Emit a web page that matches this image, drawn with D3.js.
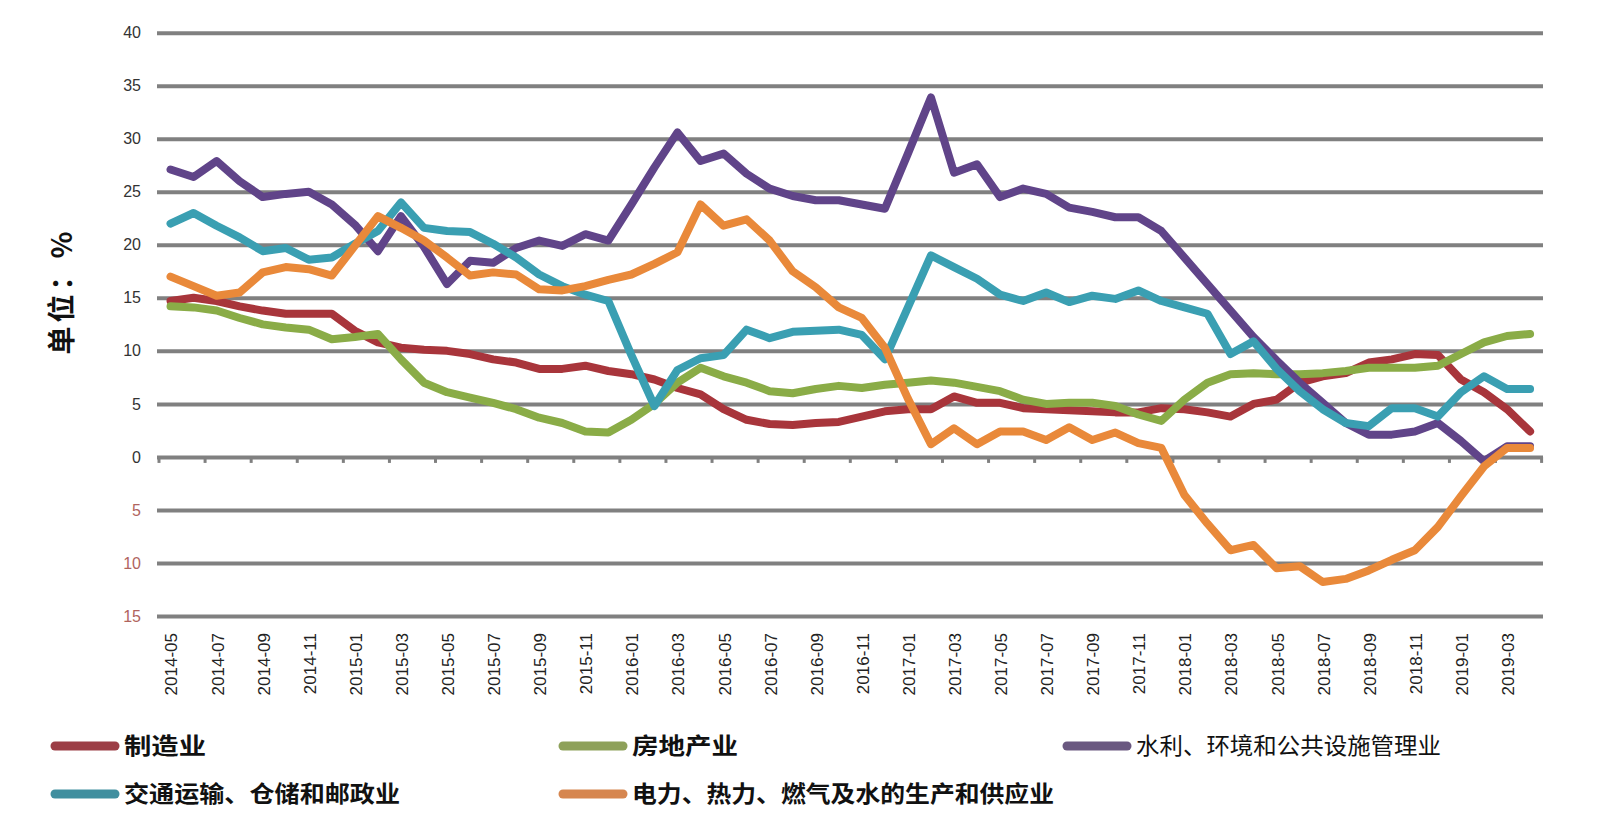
<!DOCTYPE html>
<html><head><meta charset="utf-8">
<script src="https://cdn.jsdelivr.net/npm/d3@7"></script>
<style>body{margin:0;background:#fff}svg{display:block}</style>
</head><body><svg id="c" width="1600" height="836"></svg>
<script>
const months = ["2014-05","2014-06","2014-07","2014-08","2014-09","2014-10","2014-11","2014-12",
"2015-01","2015-02","2015-03","2015-04","2015-05","2015-06","2015-07","2015-08","2015-09","2015-10","2015-11","2015-12",
"2016-01","2016-02","2016-03","2016-04","2016-05","2016-06","2016-07","2016-08","2016-09","2016-10","2016-11","2016-12",
"2017-01","2017-02","2017-03","2017-04","2017-05","2017-06","2017-07","2017-08","2017-09","2017-10","2017-11","2017-12",
"2018-01","2018-02","2018-03","2018-04","2018-05","2018-06","2018-07","2018-08","2018-09","2018-10","2018-11","2018-12",
"2019-01","2019-02","2019-03","2019-04"];
const xTickLabels = ["2014-05","2014-07","2014-09","2014-11","2015-01","2015-03","2015-05","2015-07","2015-09","2015-11",
"2016-01","2016-03","2016-05","2016-07","2016-09","2016-11","2017-01","2017-03","2017-05","2017-07","2017-09","2017-11",
"2018-01","2018-03","2018-05","2018-07","2018-09","2018-11","2019-01","2019-03"];
const yTicks = [-15,-10,-5,0,5,10,15,20,25,30,35,40];
const yTickLabels = ["15","10","5","0","5","10","15","20","25","30","35","40"];

const seriesNames = ["制造业","房地产业","水利、环境和公共设施管理业","交通运输、仓储和邮政业","电力、热力、燃气及水的生产和供应业"];
const manufacturing = [14.7,15.0,14.7,14.2,13.8,13.5,13.5,13.5,11.9,10.8,10.3,10.1,10.0,9.7,9.2,8.9,8.3,8.3,8.6,8.1,
7.8,7.3,6.5,5.9,4.5,3.5,3.1,3.0,3.2,3.3,3.8,4.3,4.5,4.5,5.7,5.1,5.1,4.6,4.5,4.4,
4.3,4.2,4.2,4.6,4.5,4.2,3.8,5.0,5.4,7.0,7.6,7.9,8.9,9.2,9.7,9.6,7.3,6.1,4.5,2.4];
const realEstate = [14.2,14.1,13.8,13.1,12.5,12.2,12.0,11.1,11.3,11.6,9.2,7.0,6.1,5.6,5.1,4.5,3.7,3.2,2.4,2.3,
3.5,5.0,7.0,8.4,7.6,7.0,6.2,6.0,6.4,6.7,6.5,6.8,7.0,7.2,7.0,6.6,6.2,5.4,5.0,5.1,
5.1,4.8,4.0,3.4,5.4,7.0,7.8,7.9,7.8,7.8,7.9,8.1,8.4,8.4,8.4,8.6,9.7,10.8,11.4,11.6];
const waterEnv = [27.1,26.4,27.9,26.0,24.5,24.8,25.0,23.8,21.9,19.4,22.7,19.8,16.3,18.5,18.3,19.7,20.4,19.9,21.0,20.4,
23.8,27.3,30.6,27.9,28.6,26.7,25.3,24.6,24.2,24.2,23.8,23.4,28.6,33.9,26.8,27.6,24.5,25.3,24.8,23.5,
23.1,22.6,22.6,21.3,18.8,16.3,13.8,11.3,9.1,7.0,5.1,3.2,2.1,2.1,2.4,3.2,1.5,-0.4,1.0,1.0];
const transport = [22.0,23.0,21.8,20.7,19.4,19.7,18.6,18.8,20.1,21.3,24.0,21.6,21.3,21.2,20.1,18.8,17.2,16.1,15.3,14.7,
9.6,4.8,8.2,9.3,9.6,12.0,11.2,11.8,11.9,12.0,11.5,9.2,14.1,19.0,17.9,16.8,15.3,14.7,15.5,14.6,
15.2,14.9,15.7,14.7,14.1,13.5,9.7,10.9,8.3,6.2,4.5,3.2,2.9,4.6,4.6,3.8,6.1,7.6,6.4,6.4];
const utilities = [17.0,16.1,15.2,15.5,17.4,17.9,17.7,17.1,19.9,22.7,21.6,20.4,18.8,17.1,17.4,17.2,15.8,15.7,16.1,16.7,
17.2,18.2,19.3,23.8,21.8,22.4,20.4,17.5,16.0,14.1,13.1,10.3,5.5,1.2,2.7,1.2,2.4,2.4,1.6,2.8,
1.6,2.3,1.3,0.85,-3.6,-6.3,-8.8,-8.3,-10.5,-10.3,-11.8,-11.5,-10.7,-9.7,-8.8,-6.6,-3.7,-0.9,0.85,0.85];

const seriesValues = [manufacturing, realEstate, waterEnv, transport, utilities];
const lineColors = ["#a8353b","#8aac47","#604489","#3a9fb2","#e9893a"];
const legendColors = ["#9c3e46","#8ea15a","#6a5880","#408f9f","#d6864f"];

const svg = d3.select("#c");
const left = 159, right = 1541.6;
const x = d3.scaleBand().domain(months).range([left, right]).padding(0);
const cx = m => x(m) + x.bandwidth() / 2;
const y = d3.scaleLinear().domain([-15, 40]).range([616, 32.7]);

// gridlines + y labels
const yAxis = d3.axisLeft(y).tickValues(yTicks).tickSize(-(1543 - 157)).tickPadding(16)
  .tickFormat((d, i) => yTickLabels[i]);
const gy = svg.append("g").attr("transform", "translate(157,0)").call(yAxis);
gy.select(".domain").remove();
gy.selectAll(".tick line").attr("stroke", "#808080").attr("stroke-width", 4);
gy.selectAll(".tick text")
  .attr("font-family", "'Liberation Sans', Arial, sans-serif").attr("font-size", 16)
  .attr("fill", d => d < 0 ? "#b0645e" : "#333");

// zero axis tick marks at category boundaries
const boundaryIdx = d3.range(0, months.length + 1, 2);
svg.append("g").selectAll("line").data(boundaryIdx).join("line")
  .attr("x1", i => i < months.length ? x(months[i]) : right)
  .attr("x2", i => i < months.length ? x(months[i]) : right)
  .attr("y1", y(0)).attr("y2", y(0) + 6)
  .attr("stroke", "#808080").attr("stroke-width", 3);

// x labels
const xAxis = d3.axisBottom(x).tickValues(xTickLabels).tickSize(0).tickPadding(0);
const gx = svg.append("g").attr("transform", "translate(1,633)").call(xAxis);
gx.select(".domain").remove();
gx.selectAll(".tick text")
  .attr("transform", "rotate(-90)").attr("text-anchor", "end")
  .attr("x", 0).attr("y", 0).attr("dy", "0.35em")
  .attr("font-family", "'Liberation Sans', Arial, sans-serif").attr("font-size", 17)
  .attr("fill", "#222");

// lines
const line = d3.line().x((d, i) => cx(months[i])).y(d => y(d));
seriesValues.forEach((vals, k) => {
  svg.append("path").datum(vals).attr("d", line)
    .attr("fill", "none").attr("stroke", lineColors[k]).attr("stroke-width", 8)
    .attr("stroke-linejoin", "round").attr("stroke-linecap", "round");
});

// y title
svg.append("text").attr("transform", "translate(72,291) rotate(-90)")
  .attr("text-anchor", "middle").attr("font-family", "'Noto Sans CJK SC', sans-serif")
  .attr("font-weight", "bold").attr("font-size", 28).attr("letter-spacing", 4).attr("fill", "#111")
  .text("单位：%");

// legend
const legendPos = [[51, 746], [559, 746], [1063, 746], [51, 794], [559, 794]];
const legendWidths = [82, 106, 305, 276, 422];
const legendBold = [true, true, false, true, true];
seriesNames.forEach((name, k) => {
  const [lx, ly] = legendPos[k];
  svg.append("line").attr("x1", lx + 4).attr("x2", lx + 64).attr("y1", ly).attr("y2", ly)
    .attr("stroke", legendColors[k]).attr("stroke-width", 9).attr("stroke-linecap", "round");
  svg.append("text").attr("x", lx + 73).attr("y", ly).attr("dy", "0.36em")
    .attr("font-family", "'Noto Sans CJK SC', sans-serif")
    .attr("font-weight", legendBold[k] ? "bold" : "normal").attr("font-size", 23)
    .attr("textLength", legendWidths[k]).attr("lengthAdjust", "spacingAndGlyphs")
    .attr("fill", "#111").text(name);
});
</script></body></html>
